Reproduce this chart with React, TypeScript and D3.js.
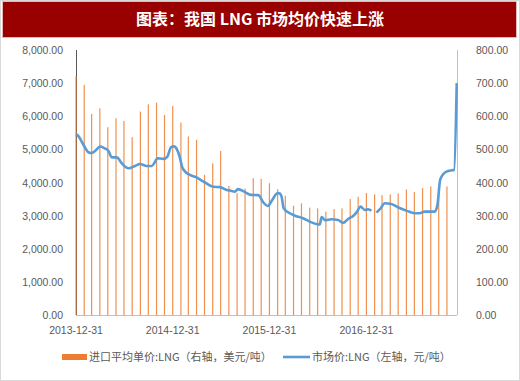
import React from "react";
import * as d3 from "d3";

const TITLE = "图表：我国 LNG 市场均价快速上涨";

const months = [
  "2013-12", "2014-01", "2014-02", "2014-03", "2014-04", "2014-05", "2014-06", "2014-07", "2014-08", "2014-09", "2014-10", "2014-11", "2014-12",
  "2015-01", "2015-02", "2015-03", "2015-04", "2015-05", "2015-06", "2015-07", "2015-08", "2015-09", "2015-10", "2015-11", "2015-12",
  "2016-01", "2016-02", "2016-03", "2016-04", "2016-05", "2016-06", "2016-07", "2016-08", "2016-09", "2016-10", "2016-11", "2016-12",
  "2017-01", "2017-02", "2017-03", "2017-04", "2017-05", "2017-06", "2017-07", "2017-08", "2017-09", "2017-10",
];

// 进口平均单价:LNG (right axis, USD/ton)
const importPrice = [
  720, 695, 607, 624, 567, 594, 586, 537, 614, 636, 641, 604, 631,
  581, 539, 529, 423, 458, 495, 390, 368, 382, 413, 411, 398,
  380, 360, 330, 337, 324, 322, 312, 320, 322, 350, 357, 368,
  364, 362, 364, 367, 379, 371, 383, 388, 380, 388,
];

// 市场价:LNG (left axis, CNY/ton); null = gap
const marketDates = [
  "2013-12-31", "2014-01-10", "2014-01-28", "2014-02-15", "2014-02-27", "2014-03-14", "2014-04-01", "2014-04-16",
  "2014-05-02", "2014-05-15", "2014-06-03", "2014-06-22", "2014-07-08", "2014-07-17", "2014-08-11", "2014-08-30",
  "2014-09-24", "2014-10-13", "2014-10-25", "2014-11-03", "2014-11-26", "2014-12-11", "2014-12-25", "2015-01-05",
  "2015-01-16", "2015-01-26", "2015-02-04", "2015-02-16", "2015-03-06", "2015-03-29", "2015-04-19", "2015-05-02",
  "2015-06-02", "2015-06-27", "2015-07-23", "2015-08-04", "2015-08-23", "2015-09-03", "2015-09-30", "2015-10-22",
  "2015-11-19", "2015-12-08", "2015-12-24", "2016-01-12", "2016-01-28", "2016-02-05", "2016-02-14", "2016-02-23",
  "2016-03-17", "2016-04-08", "2016-05-06", "2016-05-31", "2016-06-29", "2016-07-08", "2016-07-15", "2016-07-28",
  "2016-08-21", "2016-09-15", "2016-10-05", "2016-10-23", "2016-11-11", "2016-11-24", "2016-12-09", "2016-12-25",
  "2017-01-07", "2017-01-19", "2017-01-28", "2017-02-07", "2017-02-23", "2017-03-10", "2017-04-04", "2017-04-29",
  "2017-05-31", "2017-07-01", "2017-07-20", "2017-08-08", "2017-09-15", "2017-09-25", "2017-10-06", "2017-10-29",
  "2017-11-20", "2017-11-27", "2017-12-07",
];
const marketPrice: (number | null)[] = [
  5460, 5390, 5140, 4920, 4890, 4960, 5085, 5040,
  4960, 4760, 4760, 4580, 4460, 4430, 4500, 4560,
  4500, 4500, 4620, 4734, 4713, 4783, 5066, 5090,
  5000, 4783, 4481, 4330, 4230, 4160, 4058, 4000,
  3870, 3860, 3776, 3757, 3726, 3800, 3710, 3625,
  3620, 3400, 3290, 3490, 3670, 3680, 3600, 3220,
  3072, 2990, 2921, 2819, 2740, 2730, 2960, 2860,
  2891, 2870, 2780, 2900, 2991, 3100, 3272, 3172,
  3190, 3150, null, 3091, 3223, 3374, 3353, 3254,
  3151, 3072, 3072, 3121, 3121, 3323, 4100, 4330,
  4370, 4380, 7000,
];

const leftTicks = [0, 1000, 2000, 3000, 4000, 5000, 6000, 7000, 8000];
const rightTicks = [0, 100, 200, 300, 400, 500, 600, 700, 800];
const xTickLabels = ["2013-12-31", "2014-12-31", "2015-12-31", "2016-12-31"];
const legendBar = "进口平均单价:LNG（右轴，美元/吨）";
const legendLine = "市场价:LNG（左轴，元/吨）";

export default function App() {
  const W = 520, H = 381;
  const left = 76, right = 457, top = 50, bottom = 315;
  const parse = d3.timeParse("%Y-%m-%d");
  const parseM = d3.timeParse("%Y-%m");
  const x = d3.scaleTime().domain([parse("2013-12-31")!, parse("2017-12-08")!]).range([left, right]);
  const yL = d3.scaleLinear().domain([0, 8000]).range([bottom, top]);
  const yR = d3.scaleLinear().domain([0, 800]).range([bottom, top]);
  const fmtL = d3.format(",.2f");
  const fmtR = d3.format(".2f");

  const barDates = months.map((m) => d3.timeDay.offset(d3.timeMonth.offset(parseM(m)!, 1), -1));
  const lineData = marketDates.map((d, i) => ({ d: parse(d)!, v: marketPrice[i] }));
  const line = d3
    .line<{ d: Date; v: number | null }>()
    .defined((p) => p.v !== null)
    .x((p) => x(p.d))
    .y((p) => yL(p.v as number))
    .curve(d3.curveMonotoneX);

  const font = "'Liberation Sans', Arial, sans-serif";
  const cjk = "'Noto Sans CJK SC', 'Liberation Sans', sans-serif";
  const grey = "#595959";

  return (
    <svg width={W} height={H} style={{ position: "absolute", left: 0, top: 0, background: "#fff" }}>
      <rect x={0.5} y={0.5} width={W - 1} height={H - 1} fill="#fff" stroke="#D9D9D9" />
      <rect x={2.5} y={1.5} width={514} height={36} fill="#990000" stroke="#E6B8B8" />
      <text x={260} y={25} textAnchor="middle" fill="#fff" fontFamily={cjk} fontWeight={700} fontSize={16}>
        {TITLE}
      </text>

      {/* axes lines */}
      <line x1={left} x2={right} y1={bottom + 0.5} y2={bottom + 0.5} stroke="#BFBFBF" />
      <line x1={right + 0.5} x2={right + 0.5} y1={top} y2={bottom} stroke="#BFBFBF" />
      <line x1={left + 0.5} x2={left + 0.5} y1={top} y2={bottom} stroke="#595959" />

      {/* bars */}
      {importPrice.map((v, i) => (
        <rect key={i} x={x(barDates[i]) - 0.6} y={yR(v)} width={1.2} height={bottom - yR(v)} fill="#ED7D31" fillOpacity={0.85} />
      ))}

      {/* line */}
      <path d={line(lineData) || ""} fill="none" stroke="#5B9BD5" strokeWidth={2.6} strokeLinejoin="round" />

      {/* left ticks */}
      {leftTicks.map((t) => (
        <text key={t} x={63} y={yL(t) + 4} textAnchor="end" fill={grey} fontFamily={font} fontSize={10.5}>
          {fmtL(t)}
        </text>
      ))}
      {rightTicks.map((t) => (
        <text key={t} x={476} y={yR(t) + 4} textAnchor="start" fill={grey} fontFamily={font} fontSize={10.5}>
          {fmtR(t)}
        </text>
      ))}
      {xTickLabels.map((t) => (
        <text key={t} x={x(parse(t)!)} y={334} textAnchor="middle" fill={grey} fontFamily={font} fontSize={10.5}>
          {t}
        </text>
      ))}

      {/* legend */}
      <rect x={62} y={354} width={25} height={6} fill="#ED7D31" />
      <text x={89} y={361} fill={grey} fontFamily={cjk} fontSize={11}>
        {legendBar}
      </text>
      <line x1={283} x2={310} y1={357} y2={357} stroke="#5B9BD5" strokeWidth={2.6} />
      <text x={312} y={361} fill={grey} fontFamily={cjk} fontSize={11}>
        {legendLine}
      </text>
    </svg>
  );
}
